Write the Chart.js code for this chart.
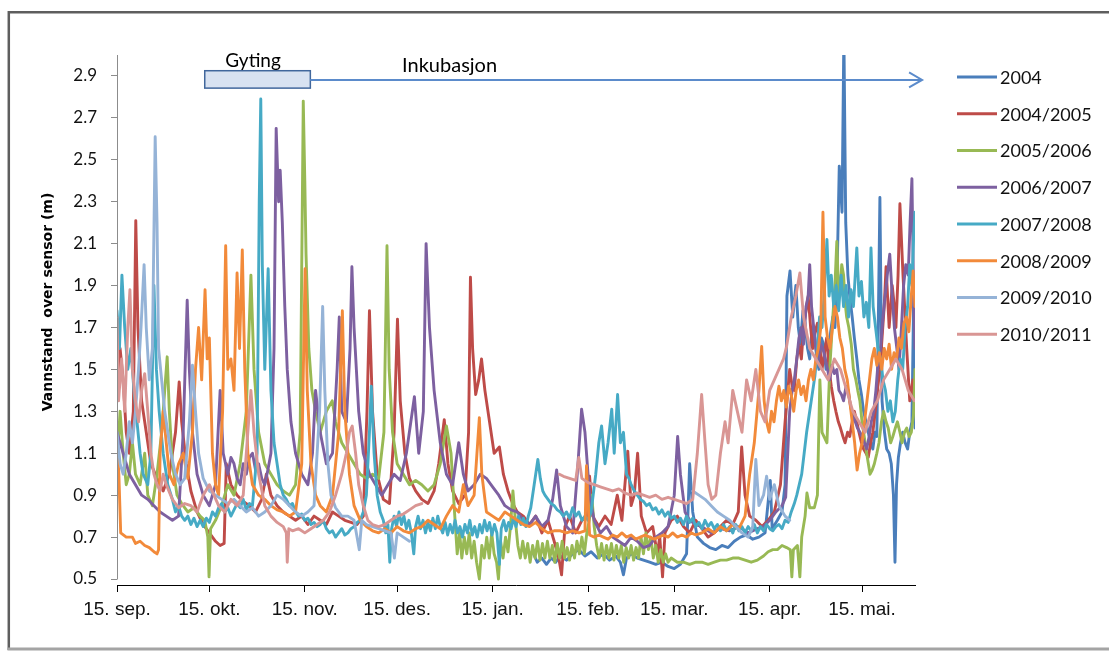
<!DOCTYPE html>
<html>
<head>
<meta charset="utf-8">
<script src="https://cdn.jsdelivr.net/npm/chart.js@4.4.0/dist/chart.umd.min.js"></script>
<style>
  html, body { margin: 0; padding: 0; background: #fff; overflow: hidden; }
  #wrap { position: relative; width: 1109px; height: 661px; }
</style>
</head>
<body>
<div id="wrap"><canvas id="c" width="1109" height="661"></canvas></div>
<script>
// Days counted from 15 September; each season runs to the start of June.
const tickDays = [0, 30, 61, 91, 122, 153, 181, 212, 242];
const tickLabels = ['15. sep.', '15. okt.', '15. nov.', '15. des.', '15. jan.', '15. feb.', '15. mar.', '15. apr.', '15. mai.'];
const levelTicks = [0.5, 0.7, 0.9, 1.1, 1.3, 1.5, 1.7, 1.9, 2.1, 2.3, 2.5, 2.7, 2.9];

const seasons = ['2004', '2004/2005', '2005/2006', '2006/2007', '2007/2008', '2008/2009', '2009/2010', '2010/2011'];
const seasonColors = ['#4a7ebb', '#be4b48', '#98b954', '#7d60a0', '#46aac5', '#f28a3a', '#95b3d7', '#d99694'];

// [day, water level (m)]
const level2004 = [[135,0.63],[136.5,0.58],[138,0.6],[139.5,0.57],[141,0.6],[142.5,0.58],[144,0.61],[146,0.59],[148,0.62],[150,0.64],[152,0.61],[154,0.63],[156,0.6],[158,0.62],[160,0.59],[162,0.61],[163.5,0.58],[164.5,0.52],[165.5,0.6],[167,0.62],[169,0.6],[171,0.59],[173,0.58],[175,0.57],[177,0.58],[179,0.56],[181,0.55],[183,0.57],[185,0.62],[186,1.05],[187,0.82],[188.5,0.7],[190.5,0.67],[192.5,0.65],[194.5,0.64],[196.5,0.66],[198.5,0.65],[200.5,0.68],[202.5,0.7],[204.5,0.71],[206.5,0.69],[208.5,0.7],[210.5,0.72],[212.2,0.97],[212.8,0.74],[214.5,0.78],[216,0.82],[217,0.95],[217.6,1.85],[218.6,1.97],[219.5,1.75],[220.5,1.9],[221.3,1.7],[222,1.62],[222.8,1.78],[223.5,1.72],[224.3,1.6],[225,1.55],[225.8,1.7],[226.5,1.68],[227.3,1.55],[228,1.5],[228.8,1.65],[229.5,1.62],[230.3,1.5],[231,1.55],[231.8,1.68],[232.5,1.75],[233.2,1.7],[233.8,1.88],[234.6,2.47],[235.5,2.25],[236.1,3.1],[236.7,2.2],[237.4,1.95],[238,1.85],[238.8,1.75],[239.5,1.65],[240.3,1.55],[241,1.45],[241.8,1.38],[242.5,1.3],[243.3,1.25],[244,1.2],[244.8,1.15],[245.5,1.12],[246.2,1.2],[246.8,1.18],[247.8,2.32],[248.5,1.35],[249.3,1.2],[250,1.12],[250.8,1.1],[251.5,1.05],[252.2,0.9],[252.7,0.58],[253.2,0.95],[253.8,1.08],[254.5,1.15],[255.2,1.2],[256,1.15],[256.8,1.12],[257.5,1.2],[258.2,1.25],[258.8,1.88],[259.2,1.22]];

const level0405 = [[0,1.35],[1,1.6],[2,1.45],[3,1.2],[4,1.1],[5.3,1.3],[6.1,2.21],[6.8,1.7],[8,1.35],[9.5,1.2],[11,1.05],[13,0.98],[15,0.92],[17,1.0],[19,1.2],[20.2,1.44],[21,1.25],[22.5,1.05],[24,0.92],[26,0.82],[28,0.76],[30,0.72],[32,0.68],[33.5,0.66],[34.8,0.67],[35.5,1.05],[37,0.95],[39,0.9],[41,0.87],[43,0.85],[45,0.82],[47,0.88],[48.5,1.0],[50,0.9],[52,0.85],[54,0.82],[56,0.8],[58,0.78],[60,0.8],[62,0.76],[64,0.8],[66,0.78],[68,0.76],[70,0.82],[72,0.8],[74,0.78],[76,0.77],[78,0.76],[80,0.8],[81.2,1.3],[82,1.78],[83,1.3],[84.5,1.0],[86.5,0.88],[88.5,0.86],[90,1.2],[91.1,1.74],[92,1.35],[93.5,1.1],[95,0.98],[97,0.92],[99,0.88],[101,0.86],[103,0.92],[104.5,1.05],[106.3,1.26],[107.5,1.05],[109,0.92],[111,0.86],[113,0.9],[114.2,1.2],[114.8,1.94],[115.5,1.6],[116.5,1.38],[117.5,1.45],[118.4,1.55],[119.5,1.4],[121,1.25],[122.5,1.1],[124.2,1.13],[125.5,1.0],[127,0.92],[128.5,0.86],[130,0.82],[132,0.8],[134,0.76],[136,0.8],[138,0.72],[140,0.78],[142,0.68],[143.5,0.6],[144.4,0.52],[145.5,0.75],[147,0.8],[149,0.72],[151,0.78],[152.8,0.8],[153.5,0.99],[154.5,0.8],[156.5,0.75],[158.5,0.8],[160.5,0.76],[162.5,0.9],[164,0.78],[165.9,1.11],[167,0.85],[168,0.9],[169.1,1.1],[170.3,0.8],[172,0.72],[174,0.75],[175.5,0.62],[176.3,0.7],[177.2,0.51],[178,0.72],[180,0.78],[182,0.8],[184,0.75],[186,0.72],[188,0.78],[190,0.74],[192,0.7],[194,0.72],[196,0.75],[198,0.78],[200,0.76],[201.8,0.82],[202.9,1.13],[204,0.9],[205.5,0.8],[207.5,0.78],[209.5,0.75],[211.5,0.78],[213.5,0.82],[215.5,0.95],[217,1.25],[218.5,1.5],[219.3,1.42],[220,1.4],[220.8,1.55],[221.5,1.62],[222.3,1.55],[223,1.7],[223.8,1.78],[224.5,1.85],[225.3,1.7],[226,1.6],[226.8,1.68],[227.5,1.72],[228.3,1.6],[229,1.5],[229.8,1.58],[230.5,1.65],[231.3,1.5],[232,1.42],[232.8,1.35],[233.5,1.3],[234.3,1.25],[235,1.22],[235.8,1.18],[236.5,1.15],[237.3,1.2],[238,1.18],[238.8,1.25],[239.5,1.3],[240.3,1.25],[241,1.2],[241.8,1.15],[242.5,1.12],[243.3,1.1],[244,1.08],[244.8,1.15],[245.5,1.2],[246.3,1.3],[247,1.4],[247.8,1.5],[248.5,1.65],[249.2,1.8],[249.8,1.99],[250.8,1.7],[251.8,1.9],[252.5,1.8],[253,1.7],[253.7,1.95],[254.3,2.29],[255.3,1.95],[256,1.75],[256.5,1.6],[257.5,1.35],[258.5,1.45],[259.2,1.3]];

const level0506 = [[0,1.05],[1,1.3],[2,1.1],[3,0.95],[4,1.0],[5,1.15],[6,1.0],[7.5,0.95],[9,1.1],[10,0.9],[11.5,0.85],[13,1.0],[14.5,1.2],[15.5,1.4],[16.3,1.56],[17,1.3],[18,1.05],[19.5,0.9],[21,0.86],[23,0.82],[25,0.84],[27,0.8],[28.5,0.78],[29.5,0.7],[29.9,0.51],[30.4,0.74],[32,0.78],[34,0.85],[36,0.95],[38,0.9],[40,1.05],[42,1.3],[43.5,1.95],[44.5,1.5],[46,1.2],[48,1.05],[50,1.0],[52,0.95],[54,0.92],[56,0.9],[58,0.95],[59.5,1.2],[60.2,2.3],[60.5,2.78],[61,2.4],[61.4,2.05],[62.3,1.6],[63.3,1.4],[64.5,1.3],[66,1.2],[68,1.3],[69.9,1.35],[71,1.25],[73,1.15],[75,1.1],[77,1.05],[79,1.0],[81,0.98],[83,1.0],[85,0.98],[86.7,1.2],[87.7,2.09],[88.4,1.5],[89.5,1.2],[91,1.05],[93,1.0],[95,0.95],[97,0.97],[99,0.95],[101,0.92],[103,0.95],[105,1.05],[107,1.23],[108.5,1.1],[109.5,0.85],[110.5,0.62],[111.3,0.72],[112,0.6],[112.8,0.7],[113.6,0.62],[114.4,0.72],[115.2,0.6],[116,0.68],[116.8,0.58],[117.7,0.5],[118.5,0.66],[119.3,0.6],[120.1,0.7],[120.9,0.6],[121.7,0.72],[122.5,0.62],[123.3,0.58],[123.9,0.5],[124.6,0.68],[125.4,0.6],[126.2,0.7],[127,0.63],[127.8,0.75],[128.6,0.92],[129.4,0.78],[130.2,0.66],[131,0.6],[131.8,0.68],[132.6,0.6],[133.4,0.67],[134.2,0.58],[135,0.66],[135.8,0.6],[136.6,0.68],[137.4,0.59],[138.2,0.67],[139,0.6],[139.8,0.68],[140.6,0.6],[141.4,0.66],[142.2,0.58],[143,0.67],[143.8,0.6],[144.6,0.68],[145.4,0.6],[146.2,0.65],[147,0.59],[147.8,0.66],[148.6,0.6],[149.4,0.68],[150.2,0.62],[151,0.7],[151.8,0.62],[152.6,0.72],[153.4,0.78],[154.2,0.9],[155,0.75],[155.8,0.66],[156.6,0.6],[157.4,0.67],[158.2,0.59],[159,0.66],[159.8,0.6],[160.6,0.67],[161.4,0.59],[162.2,0.66],[163,0.6],[163.8,0.66],[164.6,0.58],[165.4,0.65],[166.2,0.6],[167,0.66],[167.8,0.59],[168.6,0.65],[169.4,0.6],[170.2,0.7],[171,0.62],[171.8,0.72],[172.6,0.64],[173.4,0.7],[174.2,0.6],[175,0.66],[175.8,0.58],[176.6,0.64],[177.4,0.58],[178.2,0.62],[179,0.58],[180,0.6],[182,0.58],[184,0.58],[186,0.57],[188,0.58],[190,0.58],[192,0.57],[194,0.58],[196,0.59],[198,0.59],[200,0.6],[202,0.6],[204,0.59],[206,0.58],[208,0.59],[210,0.61],[211.5,0.63],[213,0.64],[214.5,0.64],[216,0.66],[217.5,0.65],[218.7,0.64],[219.2,0.51],[219.7,0.64],[221,0.66],[221.8,0.51],[222.4,0.7],[223.5,0.8],[224.1,0.91],[225,0.84],[226.5,0.84],[227.5,0.9],[228.3,1.45],[229,1.2],[230.6,1.15],[231.5,1.5],[232.5,1.75],[233.2,1.9],[233.8,2.11],[234.3,1.9],[234.8,1.85],[235.4,2.0],[236,1.95],[236.5,1.82],[237,1.75],[237.7,1.7],[238.5,1.62],[239.2,1.5],[240,1.45],[240.6,1.4],[241.3,1.35],[242,1.25],[242.5,1.2],[243.5,1.1],[244.6,1.0],[245.3,1.02],[246,1.05],[246.8,1.1],[247.5,1.15],[248.3,1.25],[249,1.3],[249.8,1.25],[250.5,1.22],[251.3,1.15],[252,1.18],[252.8,1.22],[253.5,1.25],[254.3,1.2],[255,1.15],[255.8,1.2],[256.5,1.22],[257.3,1.18],[258,1.2],[258.7,1.28],[259.2,1.5]];

const level0607 = [[0,1.2],[2,1.1],[4,1.0],[6,0.95],[8,0.9],[10,0.88],[12,0.85],[14,0.82],[16,0.8],[18,0.78],[20,0.8],[21.5,1.2],[22.8,1.83],[23.5,1.5],[24.5,1.2],[26,1.0],[28,0.9],[30,0.85],[32,0.95],[33.5,1.4],[34.5,1.1],[36,1.0],[37,1.08],[38,1.05],[39,0.98],[40,0.95],[41,1.05],[42,1.0],[43,1.08],[44,1.1],[45,1.02],[46,1.05],[47,0.98],[48,0.95],[49,1.02],[50,1.1],[51,1.6],[51.7,2.65],[52.5,2.3],[53,2.45],[53.7,2.2],[54.5,1.8],[55.3,1.5],[56.5,1.25],[58,1.1],[60,1.0],[62,0.95],[63.5,1.1],[64.5,1.4],[66,1.2],[68,1.05],[70,1.1],[71.5,1.5],[72.2,1.75],[73,1.3],[74.5,1.25],[75.7,1.6],[76.3,1.99],[77,1.7],[78.5,1.3],[80,1.1],[82,1.0],[84,0.95],[86,0.9],[88,0.95],[90,1.0],[92,0.97],[94,1.1],[96.6,1.37],[98,1.1],[99.5,1.3],[100.4,2.1],[101.5,1.7],[103,1.4],[105,1.15],[107,1.0],[109,0.95],[111,1.15],[112.5,1.0],[114,0.92],[116,0.95],[118,1.0],[120,0.98],[122,0.94],[124,0.9],[126,0.85],[128,0.83],[130,0.82],[132,0.78],[134,0.76],[136,0.8],[138,0.75],[140,0.78],[141.5,0.88],[142.8,1.02],[144,0.85],[146,0.75],[148,0.72],[149.5,1.0],[150.9,1.31],[152,1.2],[153.5,0.9],[155,0.78],[157,0.72],[159,0.75],[161,0.7],[163,0.68],[165,0.66],[167,0.7],[169,0.68],[171,0.65],[173,0.66],[175,0.7],[177,0.72],[179,0.75],[181,0.9],[182.1,1.18],[183,1.0],[184.5,0.82],[186,0.78],[188,0.76],[190,0.75],[193,0.72],[196,0.74],[199,0.73],[202,0.75],[205,0.72],[208,0.74],[210,0.75],[212,0.78],[214,0.82],[216,0.85],[217.2,0.89],[218.5,1.3],[219.3,1.4],[220,1.45],[220.8,1.55],[221.5,1.65],[222.3,1.7],[223,1.62],[223.8,1.8],[224.5,1.85],[225,2.0],[225.6,1.8],[226.3,1.7],[227,1.6],[227.8,1.55],[228.5,1.62],[229.3,1.6],[230,1.55],[230.8,1.5],[231.5,1.45],[232.3,1.52],[233,1.48],[233.8,1.5],[234.5,1.4],[235.3,1.38],[236,1.35],[236.8,1.42],[237.5,1.4],[238.3,1.32],[239,1.28],[239.8,1.25],[240.5,1.22],[241.3,1.2],[242,1.18],[242.8,1.15],[243.5,1.12],[244.3,1.18],[245,1.25],[245.8,1.3],[246.5,1.4],[247.3,1.55],[248,1.6],[248.8,1.75],[249.5,1.85],[250.2,1.95],[251,2.05],[251.8,1.85],[252.5,1.7],[253.3,1.6],[254,1.5],[254.8,1.7],[255.5,1.9],[256.2,2.0],[257,1.95],[257.6,2.2],[258.2,2.41],[258.7,1.9],[259.2,1.6]];

const level0708 = [[0,1.78],[0.8,1.6],[1.6,1.95],[2.5,1.7],[3.5,1.5],[4.5,1.6],[5.5,1.4],[6.5,1.25],[7.5,1.1],[8.5,1.0],[10,0.95],[11,1.1],[12,1.9],[12.8,1.5],[13.7,1.3],[15,1.1],[16.5,0.95],[18,0.88],[19,0.82],[20,0.85],[21,0.8],[22,0.78],[23,0.8],[24,0.76],[25,0.79],[26,0.75],[27,0.78],[28,0.75],[29,0.79],[30,0.77],[31,0.82],[32,0.8],[33,0.84],[34,0.86],[35,0.82],[36,0.84],[37,0.8],[38,0.83],[39,0.86],[40,0.84],[41,0.88],[42,0.83],[43,0.86],[44,0.85],[45.5,1.1],[46.2,2.3],[46.7,2.79],[47.2,2.0],[48,1.5],[49.1,1.98],[50,1.4],[51,1.15],[52,1.05],[53,0.95],[54,0.9],[55,0.88],[56,0.85],[57,0.86],[58,0.82],[59,0.8],[60,0.81],[61,0.78],[62,0.79],[63,0.76],[64,0.77],[65,0.75],[66,0.76],[67,0.78],[68,0.74],[69,0.72],[70,0.73],[71,0.7],[72,0.72],[73,0.74],[74,0.71],[75,0.72],[76,0.74],[77,0.75],[78,0.77],[79,0.78],[80,0.82],[81,0.9],[82,1.2],[82.6,1.42],[83.5,1.1],[84.5,0.9],[85.5,0.82],[86.5,0.78],[87.3,0.72],[88,0.76],[88.6,0.58],[89.2,0.74],[90,0.8],[90.8,0.75],[91.6,0.82],[92.4,0.76],[93.2,0.8],[94,0.74],[94.8,0.78],[95.6,0.72],[96.4,0.62],[97,0.75],[97.8,0.8],[98.6,0.74],[99.4,0.78],[100.2,0.72],[101,0.77],[101.8,0.73],[102.6,0.79],[103.4,0.74],[104.2,0.8],[105,0.75],[105.8,0.72],[106.6,0.77],[107.4,0.71],[108.2,0.76],[109,0.72],[109.8,0.78],[110.6,0.72],[111.4,0.75],[112.2,0.7],[113,0.76],[113.8,0.72],[114.6,0.78],[115.4,0.71],[116.2,0.75],[117,0.7],[117.8,0.76],[118.6,0.72],[119.4,0.78],[120.2,0.73],[121,0.77],[121.8,0.71],[122.6,0.76],[123.4,0.72],[124.2,0.57],[124.8,0.74],[125.6,0.78],[126.4,0.73],[127.2,0.77],[128,0.74],[128.8,0.79],[129.6,0.75],[130.4,0.8],[131.2,0.76],[132,0.79],[132.8,0.75],[133.6,0.8],[134.4,0.84],[135.5,0.95],[136.7,1.07],[137.5,0.98],[138.3,0.92],[139,0.9],[140,0.88],[141,0.86],[142,0.85],[143,0.83],[144,0.82],[145,0.8],[146,0.82],[147,0.79],[148,0.84],[149,0.8],[150,0.82],[151,0.78],[152,0.8],[153,0.78],[154,0.82],[155.5,1.0],[156.5,1.15],[157.4,1.23],[158.5,1.05],[159.5,1.15],[160.7,1.31],[161.5,1.1],[162.6,1.38],[163.5,1.15],[164.5,1.2],[165.5,1.0],[166.3,0.98],[167,0.95],[168,0.92],[169,0.9],[170,0.88],[171,0.87],[172,0.85],[173,0.86],[174,0.83],[175,0.84],[176,0.81],[177,0.83],[178,0.8],[179,0.82],[180,0.79],[181,0.8],[182,0.77],[183,0.79],[184,0.76],[185,0.8],[186,0.77],[187,0.79],[188,0.75],[189,0.77],[190,0.74],[191,0.78],[192,0.75],[193,0.77],[194,0.74],[195,0.76],[196,0.73],[197,0.76],[198,0.73],[199,0.75],[200,0.72],[201,0.76],[202,0.73],[203,0.75],[204,0.72],[205,0.75],[206,0.73],[207,0.76],[208,0.72],[209,0.75],[210,0.73],[211,0.76],[212,0.74],[213,0.73],[214,0.75],[215,0.76],[216,0.74],[217,0.78],[218,0.77],[219,0.82],[220,0.86],[220.8,0.9],[221.6,0.95],[222.4,1.0],[223.2,1.1],[224,1.2],[225,1.3],[226,1.4],[226.7,1.47],[227.5,1.6],[228.2,1.75],[229,1.7],[229.8,1.88],[230.6,2.12],[231.3,1.85],[232,1.95],[232.8,1.8],[233.6,1.9],[234.4,1.78],[235.2,1.95],[236,1.8],[236.8,1.9],[237.6,1.75],[238.4,1.88],[239.2,1.8],[240.3,2.08],[241,1.85],[241.8,1.92],[242.6,1.75],[243.4,1.82],[244.2,1.7],[244.9,2.08],[245.6,1.8],[246.4,1.7],[247.2,1.6],[248,1.55],[248.8,1.45],[249.6,1.4],[250.4,1.3],[251.2,1.35],[252,1.25],[252.8,1.3],[253.6,1.45],[254.4,1.55],[255.2,1.5],[256,1.7],[256.8,1.8],[257.5,2.0],[258.2,1.9],[258.8,2.15],[259.2,2.25]];

const level0809 = [[0,1.15],[0.6,1.0],[1.2,0.72],[3,0.7],[5,0.7],[6,0.67],[7.5,0.68],[9,0.66],[10.5,0.65],[12,0.63],[13,0.62],[13.5,0.64],[14,1.1],[15,1.3],[16,1.15],[17,1.0],[18.5,0.95],[20,1.05],[21.5,1.1],[23,0.98],[24.5,1.2],[25.5,1.5],[26.5,1.7],[27.5,1.45],[28.6,1.88],[29.3,1.55],[30,1.65],[31,1.1],[32,0.95],[33,0.9],[34.3,1.3],[35.3,2.09],[36,1.5],[37,1.55],[38,1.4],[39,1.96],[39.8,1.6],[40.7,2.07],[41.5,1.5],[42.5,1.1],[44,0.95],[46,0.9],[48,0.88],[50,0.85],[52,0.83],[54,0.82],[56,0.8],[58,0.82],[60,1.05],[61.1,1.98],[61.8,1.4],[63,1.05],[64.5,0.9],[66,0.85],[68,0.82],[70,0.9],[72,1.2],[73.2,1.78],[74,1.3],[75.5,1.0],[77,0.85],[79,0.78],[81,0.75],[83,0.73],[85,0.72],[87,0.74],[89,0.72],[91,0.75],[93,0.73],[95,0.72],[97,0.74],[99,0.75],[101,0.78],[103,0.76],[105,0.74],[107,0.8],[109,0.85],[111,0.82],[112.5,0.95],[114,0.85],[116,0.9],[117.7,1.27],[118.5,1.0],[120,0.82],[122,0.8],[124,0.78],[126,0.82],[128,0.8],[130,0.78],[132,0.76],[134,0.75],[136,0.77],[138,0.74],[140,0.72],[142,0.73],[144,0.73],[146,0.72],[148,0.73],[150,0.72],[152,0.73],[152.5,1.04],[153.5,0.71],[155,0.7],[156.5,0.71],[158,0.7],[159.5,0.69],[161,0.71],[162.5,0.7],[164,0.72],[165.5,0.7],[167,0.71],[168.5,0.69],[170,0.7],[171.5,0.71],[173,0.7],[174.5,0.69],[176,0.7],[177.5,0.71],[179,0.7],[180.5,0.72],[182,0.7],[183.5,0.71],[185,0.7],[186.5,0.72],[188,0.71],[190,0.72],[192,0.74],[194,0.72],[196,0.75],[198,0.73],[200,0.76],[202,0.74],[204,0.8],[205.5,1.0],[207,1.15],[208.5,1.4],[209.4,1.61],[210.2,1.35],[211,1.25],[211.8,1.2],[212.6,1.3],[213.4,1.25],[214.2,1.35],[215,1.42],[215.8,1.35],[216.6,1.4],[217.4,1.32],[218.2,1.42],[219,1.38],[219.8,1.3],[220.6,1.4],[221.4,1.45],[222.2,1.38],[223,1.42],[223.8,1.35],[224.6,1.45],[225.4,1.5],[226.2,1.45],[227,1.55],[227.8,1.6],[228.6,1.7],[229.3,2.25],[230,1.75],[230.8,1.65],[231.6,1.6],[232.4,1.7],[233.2,1.8],[234,1.75],[234.8,1.65],[235.6,1.6],[236.4,1.5],[237.2,1.45],[238,1.35],[238.8,1.25],[239.6,1.15],[240.4,1.02],[241.2,1.1],[242,1.15],[242.8,1.25],[243.6,1.35],[244.4,1.45],[245.2,1.55],[246,1.6],[246.8,1.52],[247.6,1.58],[248.4,1.5],[249.2,1.6],[250,1.55],[250.8,1.62],[251.6,1.5],[252.4,1.58],[253.2,1.55],[254,1.65],[254.8,1.6],[255.6,1.72],[256.4,1.75],[257.2,1.68],[258,1.85],[258.6,1.97],[259.2,1.8]];

const level0910 = [[0,1.2],[1,1.05],[2,1.0],[3,1.1],[4,1.25],[5,1.15],[6,1.3],[7,1.5],[7.8,1.7],[8.8,2.0],[9.5,1.7],[10.5,1.45],[11.5,1.6],[12.4,2.61],[13,2.2],[13.5,1.6],[14.5,1.45],[15.5,1.3],[16.5,1.2],[17.5,1.1],[19,1.0],[20.5,0.95],[22,0.98],[23.5,1.25],[24.5,1.52],[25.5,1.3],[26.5,1.1],[28,0.98],[30,0.92],[32,0.9],[34,0.88],[36,0.86],[38,0.88],[40,0.85],[42,0.82],[44,0.84],[46,0.8],[48,0.82],[50,0.85],[52,0.9],[54,0.88],[56,0.85],[58,0.82],[60,0.8],[62,0.82],[64,0.85],[65.8,1.3],[66.8,1.8],[67.5,1.4],[68.5,1.05],[69.5,0.9],[71,0.84],[73,0.8],[75,0.8],[77,0.78],[78.7,0.64],[79.5,0.78],[81,0.76],[83,0.75],[85,0.74],[87,0.73],[89,0.72],[90.1,0.6],[91,0.72],[93,0.7],[95,0.68],[96,null],[187,0.92],[189,0.9],[191,0.88],[193,0.85],[195,0.82],[197,0.8],[199,0.78],[201,0.75],[203,0.72],[205,0.7],[206.5,0.75],[207.5,1.07],[208.5,0.85],[210,0.9],[211,0.99],[212,0.88],[213.5,0.95],[215,0.85],[217,0.8],[218.5,0.78]];

const level1011 = [[0,1.75],[0.5,1.35],[1.5,1.55],[2.5,1.3],[3.5,1.7],[4.2,1.88],[5,1.5],[6,1.35],[7,1.25],[8,1.4],[9,1.48],[10,1.3],[11,1.1],[12,1.0],[13,0.95],[14,0.92],[15,1.0],[16,0.95],[18,0.88],[20,0.84],[22,0.86],[24,0.85],[26,0.82],[28,0.9],[30,0.95],[31.5,0.9],[33,0.85],[35,0.82],[37,0.88],[39,0.85],[41,0.9],[42.5,1.2],[43.5,1.4],[44.5,1.2],[46,1.0],[48,0.85],[50,0.8],[52,0.77],[54,0.75],[55,0.72],[55.3,0.58],[55.8,0.74],[57,0.73],[59,0.74],[61,0.72],[63,0.74],[65,0.76],[67,0.78],[69,0.82],[71,0.9],[73,1.0],[74.5,1.1],[75.5,1.2],[76.4,1.23],[77.5,1.1],[78.5,0.95],[80,0.85],[81.5,0.78],[83,0.76],[85,0.75],[87,0.76],[89,0.78],[91,0.8],[93,0.81],[95,0.83],[97,0.85],[99,0.86],[100,null],[143.7,1.0],[145,0.99],[147,0.98],[149,0.97],[150,1.08],[151,0.98],[153,0.96],[155,0.95],[157,0.94],[159,0.93],[161,0.92],[163,0.93],[165,0.91],[167,0.9],[169,0.91],[171,0.9],[173,0.89],[175,0.9],[177,0.88],[179,0.89],[181,0.88],[183,0.87],[185,0.86],[187,0.88],[188.5,1.1],[189.9,1.38],[191,1.15],[192,0.95],[193.2,0.88],[194.5,0.9],[196,1.1],[197.5,1.25],[198.5,1.15],[200,1.4],[201.5,1.3],[203,1.2],[204.5,1.45],[206,1.35],[207.5,1.5],[209,1.3],[210.5,1.25],[212,1.4],[213.5,1.45],[215,1.5],[216.5,1.55],[217.5,1.61],[219,1.75],[220.5,1.85],[221.8,1.96],[223,1.75],[225,1.6],[227,1.55],[229,1.5],[231,1.45],[233,1.55],[235,1.5],[237,1.4],[239,1.3],[241,1.25],[243,1.2],[245,1.3],[247,1.35],[249,1.45],[251,1.5],[253,1.55],[255,1.5],[257,1.4],[259,1.35]];

const seasonLevels = [level2004, level0405, level0506, level0607, level0708, level0809, level0910, level1011];

// Annotation placement in data units (day, metres)
const spawning = { label: 'Gyting', from: 28.5, to: 62.8, top: 2.925, bottom: 2.842, textDay: 44.2, textLevel: 2.943 };
const incubation = { label: 'Inkubasjon', to: 261.5, level: 2.881, textDay: 92.6, textLevel: 2.918 };
const axisTitle = 'Vannstand  over sensor (m)';

const datasets = seasons.map((name, i) => ({
  label: name,
  data: seasonLevels[i].map(p => ({ x: p[0], y: p[1] })),
  borderColor: seasonColors[i],
  backgroundColor: seasonColors[i],
  borderWidth: 2.9,
  pointRadius: 0,
  pointHoverRadius: 0,
  tension: 0,
  spanGaps: false,
  borderJoinStyle: 'round',
  borderCapStyle: 'round',
  order: seasons.length - i
}));

const decorations = {
  id: 'decorations',
  beforeDraw(chart) {
    const ctx = chart.ctx;
    ctx.save();
    ctx.fillStyle = '#ffffff';
    ctx.fillRect(0, 0, chart.width, chart.height);
    ctx.lineWidth = 2.5;
    ctx.strokeStyle = '#5e5e5e';
    ctx.beginPath();
    ctx.moveTo(8.8, 650);
    ctx.lineTo(8.8, 12.2);
    ctx.lineTo(chart.width, 12.2);
    ctx.stroke();
    ctx.strokeStyle = '#a4a4a4';
    ctx.lineWidth = 3;
    ctx.beginPath();
    ctx.moveTo(7.5, 649);
    ctx.lineTo(chart.width, 649);
    ctx.stroke();
    ctx.restore();
  },
  afterDraw(chart) {
    const ctx = chart.ctx;
    const xs = chart.scales.x, ys = chart.scales.y;
    const area = chart.chartArea;
    ctx.save();

    // value axis line, stopping at the lowest tick
    ctx.strokeStyle = '#8c8c8c';
    ctx.lineWidth = 1;
    ctx.beginPath();
    ctx.moveTo(Math.round(area.left) + 0.5, area.top);
    ctx.lineTo(Math.round(area.left) + 0.5, Math.round(ys.getPixelForValue(levelTicks[0])) + 0.5);
    ctx.stroke();

    // axis title
    ctx.save();
    ctx.translate(48, 302);
    ctx.rotate(-Math.PI / 2);
    ctx.fillStyle = '#000';
    ctx.font = 'bold 14px "DejaVu Sans"';
    ctx.textAlign = 'center';
    ctx.textBaseline = 'middle';
    ctx.fillText(axisTitle, 0, 0);
    ctx.restore();

    // spawning period box
    const bx0 = xs.getPixelForValue(spawning.from), bx1 = xs.getPixelForValue(spawning.to);
    const by0 = ys.getPixelForValue(spawning.top), by1 = ys.getPixelForValue(spawning.bottom);
    ctx.fillStyle = '#d8e2f1';
    ctx.strokeStyle = '#41679c';
    ctx.lineWidth = 1.5;
    ctx.fillRect(bx0, by0, bx1 - bx0, by1 - by0);
    ctx.strokeRect(bx0, by0, bx1 - bx0, by1 - by0);
    ctx.fillStyle = '#000';
    ctx.font = '19px Lato';
    ctx.textAlign = 'center';
    ctx.textBaseline = 'alphabetic';
    ctx.fillText(spawning.label, xs.getPixelForValue(spawning.textDay), ys.getPixelForValue(spawning.textLevel));

    // incubation arrow
    const ay = ys.getPixelForValue(incubation.level);
    const ax1 = xs.getPixelForValue(incubation.to);
    ctx.strokeStyle = '#5b8bcb';
    ctx.lineWidth = 2;
    ctx.beginPath();
    ctx.moveTo(bx1, ay);
    ctx.lineTo(ax1, ay);
    ctx.stroke();
    ctx.beginPath();
    ctx.moveTo(ax1 - 13, ay - 7.5);
    ctx.lineTo(ax1, ay);
    ctx.lineTo(ax1 - 13, ay + 7.5);
    ctx.stroke();
    ctx.fillStyle = '#000';
    ctx.font = '20px Lato';
    ctx.textAlign = 'left';
    ctx.fillText(incubation.label, xs.getPixelForValue(incubation.textDay), ys.getPixelForValue(incubation.textLevel));

    // legend
    ctx.font = '18px Lato';
    ctx.textBaseline = 'middle';
    seasons.forEach((name, i) => {
      const y = 77 + i * 36.75;
      ctx.strokeStyle = seasonColors[i];
      ctx.lineWidth = 3;
      ctx.beginPath();
      ctx.moveTo(957, y);
      ctx.lineTo(997, y);
      ctx.stroke();
      ctx.fillStyle = '#111';
      ctx.fillText(name, 1000, y + 1);
    });
    ctx.restore();
  }
};

new Chart(document.getElementById('c'), {
  type: 'line',
  data: { datasets },
  options: {
    responsive: false,
    animation: false,
    devicePixelRatio: 1,
    events: [],
    layout: { padding: { left: 0, right: 194, top: 55, bottom: 0 } },
    plugins: { legend: { display: false }, tooltip: { enabled: false } },
    scales: {
      x: {
        type: 'linear',
        min: 0,
        max: 259.2,
        afterBuildTicks: s => { s.ticks = tickDays.map(v => ({ value: v })); },
        afterFit: s => { s.height = 76; },
        ticks: {
          callback: v => tickLabels[tickDays.indexOf(v)],
          color: '#111',
          font: { family: 'Liberation Sans', size: 19 },
          padding: 6,
          maxRotation: 0,
          autoSkip: false
        },
        grid: { drawOnChartArea: false, drawTicks: true, tickLength: 7, color: '#000' },
        border: { display: true, color: '#000', width: 1 }
      },
      y: {
        min: 0.4714,
        max: 3.0,
        afterBuildTicks: s => { s.ticks = levelTicks.map(v => ({ value: v })); },
        afterFit: s => { s.width = 117; },
        ticks: {
          callback: v => v.toFixed(1),
          color: '#111',
          font: { family: 'Lato', size: 17 },
          padding: 14
        },
        grid: { drawOnChartArea: false, drawTicks: true, tickLength: 6, color: '#8c8c8c' },
        border: { display: false }
      }
    }
  },
  plugins: [decorations]
});
</script>
</body>
</html>
